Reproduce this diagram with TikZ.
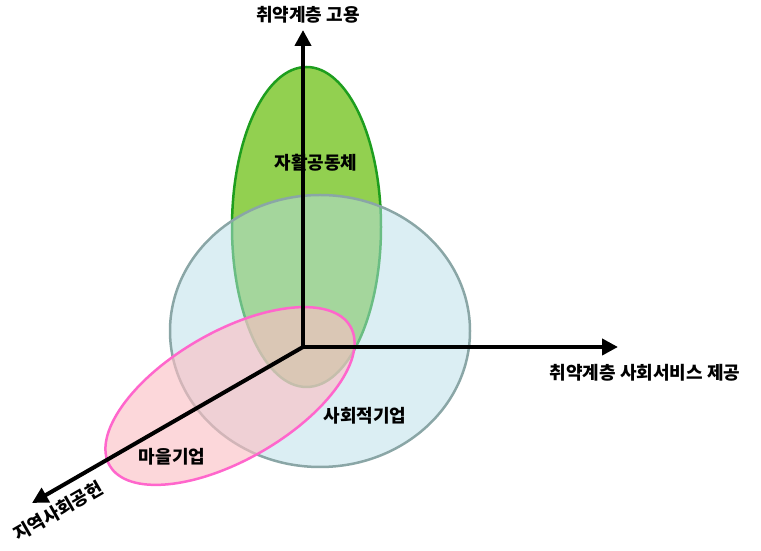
\documentclass[tikz,border=0pt]{standalone}
\usepackage{fontspec}
\setmainfont{Noto Sans CJK KR}
\usepackage{xcolor}
\usetikzlibrary{arrows.meta, positioning}

\definecolor{jahwalfill}{HTML}{92D050}
\definecolor{jahwalline}{HTML}{1E9E1E}
\definecolor{socialfill}{HTML}{B7DDE8}
\definecolor{socialline}{HTML}{8AA6A6}
\definecolor{maeulfill}{HTML}{FBBFC4}
\definecolor{maeulline}{HTML}{FF66CC}

\begin{document}
\begin{tikzpicture}[x=1pt, y=1pt,
        axis/.style={line width=4pt, -{Triangle[length=16pt, width=16pt]}},
        axislabel/.style={font=\fontsize{18}{20}\selectfont\bfseries, inner sep=0pt},
        areatext/.style={font=\fontsize{18}{20}\selectfont\bfseries, inner sep=0pt},
        region/.style={line width=2.5pt}]

        \useasboundingbox (0,0) rectangle (761,551);

        %영역 (타원)
        \draw[region, draw=jahwalline, fill=jahwalfill] (306.5,324) ellipse [x radius=74.5pt, y radius=160pt];
        \draw[region, draw=socialline, fill=socialfill, fill opacity=0.5] (320,220) ellipse [x radius=150pt, y radius=136pt];
        \draw[region, draw=maeulline, fill=maeulfill, fill opacity=0.63, rotate around={30:(230,155)}] (230,155) ellipse [x radius=139pt, y radius=64pt];

        % 축
        \coordinate (O) at (303,204);
        \coordinate (up) at (303,521);
        \coordinate (right) at (618,204);
        \coordinate (left) at (32,48);
        \draw[axis] (O) -- (up);
        \draw[axis] (O) -- (right);
        \draw[axis] (O) -- (left);

        % 축 이름
        \node[axislabel] (employ) at (308,536) {취약계층 고용};
        \node[axislabel] (service) at (645,178) {취약계층 사회서비스 제공};
        \node[axislabel, rotate=30] (contrib) at (58,40) {지역사회공헌};

        % 영역 이름
        \node[areatext] (jahwal) at (316,388) {자활공동체};
        \node[areatext] (social) at (365,135) {사회적기업};
        \node[areatext] (maeul) at (172,94) {마을기업};

    \end{tikzpicture}
\end{document}
